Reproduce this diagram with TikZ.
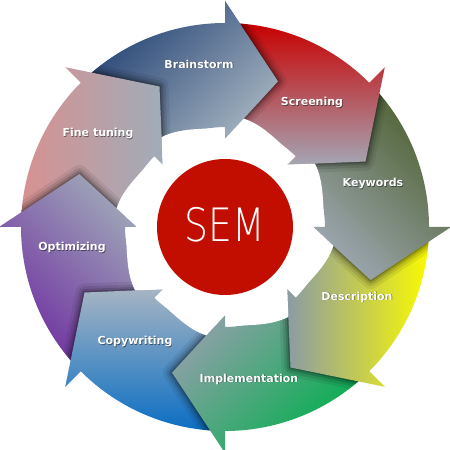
\documentclass[tikz,border=0pt]{standalone}
\usepackage{fontspec}
\newfontfamily\lblfont{DejaVu Sans}
\IfFontExistsTF{DejaVu Sans ExtraLight}{\newfontfamily\semfont{DejaVu Sans ExtraLight}}{\newfontfamily\semfont{Liberation Sans}}
\definecolor{semred}{RGB}{193,14,0}
\definecolor{bsA}{RGB}{35,65,115}\definecolor{bsB}{RGB}{165,180,192}
\definecolor{scA}{RGB}{200,0,0}\definecolor{scB}{RGB}{165,165,180}
\definecolor{kwA}{RGB}{75,95,45}\definecolor{kwB}{RGB}{160,170,182}
\definecolor{deA}{RGB}{250,250,0}\definecolor{deB}{RGB}{140,155,165}
\definecolor{imA}{RGB}{0,175,75}\definecolor{imB}{RGB}{145,160,170}
\definecolor{cwA}{RGB}{10,110,195}\definecolor{cwB}{RGB}{165,180,195}
\definecolor{opA}{RGB}{110,45,160}\definecolor{opB}{RGB}{160,170,185}
\definecolor{ftA}{RGB}{215,145,145}\definecolor{ftB}{RGB}{160,172,185}
\tikzset{
 arrp/.style={insert path={({#1+45}:204) arc[start angle={#1+45}, end angle={#1}, radius=204] -- ({#1}:226) -- ({#1-20}:155) -- ({#1}:88) -- ({#1}:100) arc[start angle={#1}, end angle={#1+45}, radius=100] -- cycle}},
 headp/.style={insert path={({#1}:226) -- ({#1-20}:155) -- ({#1}:88) -- cycle}},
 lbl/.style={font=\lblfont\bfseries\fontsize{11}{13}\selectfont, text=white, inner sep=0pt},
 lblsh/.style={font=\lblfont\bfseries\fontsize{11}{13}\selectfont, text=black, text opacity=0.45, inner sep=0pt},
}
\newcommand{\headshadow}[1]{%
 \begin{scope}
  \clip (204,0) arc[start angle=0, end angle=360, radius=204] -- cycle
        (100,0) arc[start angle=360, end angle=0, radius=100] -- cycle;
  \clip (0,0) -- ({#1}:260) arc[start angle={#1}, end angle={#1-60}, radius=260] -- cycle;
  \foreach \w/\o in {18/0.07,12/0.1,7/0.14,3/0.2}
   \draw[line width=\w pt, draw=black, draw opacity=\o, line join=round] ({#1}:226) -- ({#1-20}:155) -- ({#1}:88);
 \end{scope}}
\newcommand{\lobe}[1]{%
 \fill[white] (0,0) -- ({#1}:88) -- ({#1-9.8}:110) .. controls ({#1-20}:109) and ({#1-30}:101) .. ({#1-40}:99.5) -- cycle;}
\newcommand{\lab}[4]{%
 \node[#4sh] at ({#1+0.7},{#2-0.7}) {#3};
 \node[#4] (n#3) at (#1,#2) {#3};}
\begin{document}
\begin{tikzpicture}[x=1pt,y=1pt]
\begin{scope}[shift={(225,223)}]
\fill[white] (-225,-223) rectangle (225,227);
\useasboundingbox (-225,-223) rectangle (225,227);
% arrows
\shade[top color=bsA, bottom color=bsB, shading angle=45, arrp=90];
\headshadow{135}
\shade[top color=ftA, bottom color=ftB, shading angle=90, arrp=135];
\headshadow{180}
\shade[top color=opA, bottom color=opB, shading angle=135, arrp=180];
\headshadow{225}
\shade[top color=cwA, bottom color=cwB, shading angle=180, arrp=225];
\headshadow{270}
\shade[top color=imA, bottom color=imB, shading angle=225, arrp=270];
\headshadow{315}
\shade[top color=deA, bottom color=deB, shading angle=270, arrp=315];
\headshadow{360}
\shade[top color=kwA, bottom color=kwB, shading angle=315, arrp=360];
\headshadow{405}
\shade[top color=scA, bottom color=scB, shading angle=360, arrp=405];
\headshadow{90}
\begin{scope}
 \clip[headp=90];
 \shade[top color=bsA, bottom color=bsB, shading angle=45, arrp=90];
\end{scope}
% white lobes
\foreach \t in {90,45,0,-45,-90,-135,180,135} {\lobe{\t}}
% centre
\fill[semred] (0,0) circle[radius=68];
\node[text=white, font=\semfont\fontsize{46}{50}\selectfont, xscale=0.82, inner sep=0pt] (sem) at (0,2) {SEM};
% labels
\lab{-26}{163}{Brainstorm}{lbl}
\lab{87}{124}{Screening}{lbl}
\lab{148}{43}{Keywords}{lbl}
\lab{132}{-70}{Description}{lbl}
\lab{24}{-152}{Implementation}{lbl}
\lab{-90}{-115}{Copywriting}{lbl}
\lab{-153}{-21}{Optimizing}{lbl}
\lab{-127}{93}{Fine tuning}{lbl}
\end{scope}
\end{tikzpicture}
\end{document}
